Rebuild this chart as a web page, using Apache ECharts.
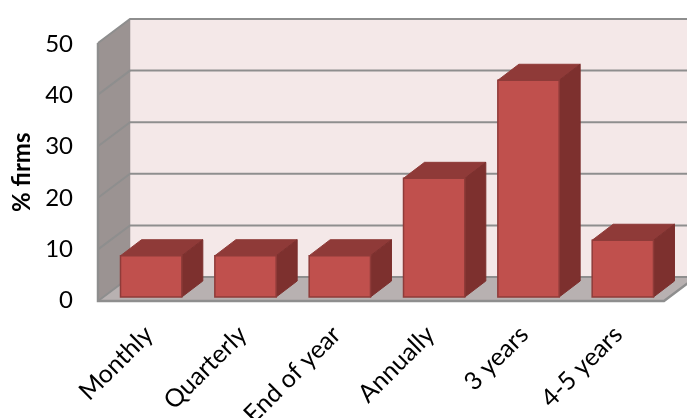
<!DOCTYPE html>
<html>
<head>
<meta charset="utf-8">
<style>html,body{margin:0;padding:0;background:#fff}#chart{width:687px;height:418px}</style>
<script src="https://cdn.jsdelivr.net/npm/echarts@6/dist/echarts.min.js"></script>
</head>
<body>
<div id="chart"></div>
<script>
const categories = ['Monthly', 'Quarterly', 'End of year', 'Annually', '3 years', '4-5 years'];
const firmShare = [8, 8, 8, 23, 42, 11];
const gridValues = [0, 10, 20, 30, 40, 50];

// Extrusion vectors of the pseudo-3D box and of each bar.
const wallDepth = [32, -24];
const barDepth = [21, -16];
// The bars stand slightly inside the front edge of the floor.
const floorInset = [6, -4];

const colors = {
  backWall: '#f4e8e8',
  sideWall: '#9b9392',
  floor: '#b8b1b1',
  rule: '#8e8e8e',
  barFront: '#c0504d',
  barTop: '#8f3a38',
  barSide: '#7d302e',
  barEdge: '#8f3b39'
};

function polygon(points, fill, stroke, lineWidth) {
  return {
    type: 'polygon',
    shape: { points: points },
    style: { fill: fill, stroke: stroke || fill, lineWidth: lineWidth || 0.5 }
  };
}

function polyline(points, stroke, lineWidth) {
  return {
    type: 'polyline',
    shape: { points: points },
    style: { fill: 'none', stroke: stroke, lineWidth: lineWidth }
  };
}

// Back wall, side wall, floor and the gridlines that fold across them.
function renderRoom(params, api) {
  const rect = params.coordSys;
  const left = rect.x - floorInset[0];
  const right = rect.x + rect.width - floorInset[0];
  const shift = function (value) {
    return api.coord([0, value])[1] - floorInset[1];
  };
  const bottom = shift(0);
  const top = shift(50);
  const dx = wallDepth[0];
  const dy = wallDepth[1];
  const children = [
    polygon([[left + dx, top + dy], [right + dx, top + dy], [right + dx, bottom + dy], [left + dx, bottom + dy]], colors.backWall),
    polygon([[left, top], [left + dx, top + dy], [left + dx, bottom + dy], [left, bottom]], colors.sideWall),
    polygon([[left, bottom], [left + dx, bottom + dy], [right + dx, bottom + dy], [right, bottom]], colors.floor)
  ];
  gridValues.forEach(function (value) {
    const y = shift(value);
    children.push(polyline([[left, y], [left + dx, y + dy], [right + dx, y + dy]], colors.rule, 2));
  });
  children.push(polyline([[left, top], [left, bottom], [right, bottom], [right + dx, bottom + dy]], colors.rule, 2.5));
  return { type: 'group', children: children };
}

// One extruded column: top and side faces behind the front face.
function renderBar(params, api) {
  const base = api.coord([api.value(0), 0]);
  const head = api.coord([api.value(0), api.value(1)]);
  const half = api.size([1, 0])[0] * 0.325;
  const x0 = base[0] - half;
  const x1 = base[0] + half;
  const dx = barDepth[0];
  const dy = barDepth[1];
  return {
    type: 'group',
    children: [
      polygon([[x0, head[1]], [x0 + dx, head[1] + dy], [x1 + dx, head[1] + dy], [x1, head[1]]], colors.barTop, colors.barEdge, 1),
      polygon([[x1, head[1]], [x1 + dx, head[1] + dy], [x1 + dx, base[1] + dy], [x1, base[1]]], colors.barSide, colors.barSide, 1),
      polygon([[x0, head[1]], [x1, head[1]], [x1, base[1]], [x0, base[1]]], colors.barFront, colors.barEdge, 1.5)
    ]
  };
}

const chart = echarts.init(document.getElementById('chart'), null, { renderer: 'canvas' });
chart.setOption({
  animation: false,
  // Grid 0 carries the marks; grid 1 sets the axis labels relative to the front edge of the box.
  grid: [
    { left: 104, top: 39, width: 566, height: 258, outerBoundsMode: 'none' },
    { left: 102, top: 44, width: 563, height: 256.5, outerBoundsMode: 'none' }
  ],
  xAxis: [
    { type: 'category', gridIndex: 0, data: categories, show: false },
    {
      type: 'category',
      gridIndex: 1,
      data: categories,
      axisLine: { show: false },
      axisTick: { show: false },
      axisLabel: {
        rotate: 45,
        interval: 0,
        margin: 30,
        fontFamily: 'Lato',
        fontSize: 25,
        color: '#000'
      }
    }
  ],
  yAxis: [
    { type: 'value', gridIndex: 0, min: 0, max: 50, interval: 10, show: false },
    {
      type: 'value',
      gridIndex: 1,
      min: 0,
      max: 50,
      interval: 10,
      name: '% firms',
      nameLocation: 'middle',
      nameGap: 68,
      nameMoveOverlap: false,
      nameTextStyle: {
        fontFamily: 'Lato',
        fontSize: 24,
        fontWeight: 'bold',
        color: '#000'
      },
      axisLine: { show: false },
      axisTick: { show: false },
      splitLine: { show: false },
      axisLabel: {
        margin: 29,
        fontFamily: 'Lato',
        fontSize: 24,
        color: '#000'
      }
    }
  ],
  series: [
    {
      type: 'custom',
      silent: true,
      clip: false,
      z: 1,
      xAxisIndex: 0,
      yAxisIndex: 0,
      renderItem: renderRoom,
      data: [[0, 0]]
    },
    {
      type: 'custom',
      clip: false,
      z: 2,
      xAxisIndex: 0,
      yAxisIndex: 0,
      renderItem: renderBar,
      encode: { x: 0, y: 1 },
      data: firmShare.map(function (value, i) { return [i, value]; })
    }
  ]
});
</script>
</body>
</html>
